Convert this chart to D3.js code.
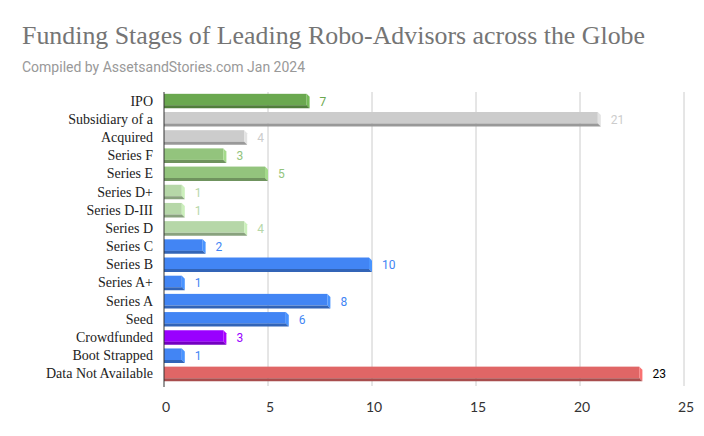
<!DOCTYPE html>
<html><head><meta charset="utf-8">
<script src="https://cdn.jsdelivr.net/npm/d3@7"></script>
<style>body{margin:0;background:#fff}</style>
</head><body>
<svg id="c" width="704" height="436"></svg>
<script>
const categories = ["IPO","Subsidiary of a","Acquired","Series F","Series E","Series D+","Series D-III","Series D","Series C","Series B","Series A+","Series A","Seed","Crowdfunded","Boot Strapped","Data Not Available"];
const values = [7,21,4,3,5,1,1,4,2,10,1,8,6,3,1,23];
const barColors = ["#6aa84f","#cccccc","#cccccc","#93c47d","#93c47d","#b6d7a8","#b6d7a8","#b6d7a8","#4285f4","#4285f4","#4285f4","#4285f4","#4285f4","#9900ff","#4285f4","#e06666"];
const labelColors = ["#6aa84f","#cccccc","#cccccc","#93c47d","#93c47d","#b6d7a8","#b6d7a8","#b6d7a8","#4285f4","#4285f4","#4285f4","#4285f4","#4285f4","#9900ff","#4285f4","#000000"];
const xTicks = [0,5,10,15,20,25];

const svg = d3.select("#c");
svg.append("rect").attr("width",704).attr("height",436).attr("fill","#fff");
svg.append("text").attr("x",22).attr("y",44).attr("font-family","Liberation Serif, serif")
  .attr("font-size",26).attr("fill","#757575").attr("textLength",623).attr("lengthAdjust","spacingAndGlyphs")
  .text("Funding Stages of Leading Robo-Advisors across the Globe");
svg.append("text").attr("x",22).attr("y",72).attr("font-family","Roboto, sans-serif")
  .attr("font-size",14).attr("fill","#999999").text("Compiled by AssetsandStories.com Jan 2024");

const x = d3.scaleLinear().domain([0,25]).range([164,684]);
const y = d3.scaleBand().domain(categories).range([92,383]).paddingInner(0.2).paddingOuter(0.1);

svg.append("g").selectAll("line").data(xTicks.slice(1)).join("line")
  .attr("x1",d=>x(d)).attr("x2",d=>x(d)).attr("y1",92).attr("y2",386)
  .attr("stroke","#cccccc").attr("stroke-width",1);

const shade = (c,k)=> (k>0 ? d3.color(c).brighter(k) : d3.color(c).darker(-k)).formatHex();
const g = svg.append("g");
const dp = 3;
categories.forEach((c,i)=>{
  const x0 = x(0), x1 = x(values[i]);
  const y0 = y(c), y1 = y(c)+y.bandwidth();
  g.append("rect").attr("x",x0).attr("y",y0).attr("width",x1-dp-x0).attr("height",y1-dp-y0).attr("fill",barColors[i]);
  g.append("path").attr("d",`M${x1-dp},${y0}L${x1},${y0+dp}L${x1},${y1}L${x1-dp},${y1-dp}Z`).attr("fill",shade(barColors[i],0.3));
  g.append("path").attr("d",`M${x0},${y1-dp}L${x1-dp},${y1-dp}L${x1},${y1}L${x0},${y1}Z`).attr("fill",shade(barColors[i],-0.8));
  g.append("text").attr("x",x1+10).attr("y",(y0+y1)/2+4.5).attr("font-family","Roboto, sans-serif")
    .attr("font-size",12).attr("fill",labelColors[i]).text(values[i]);
});

svg.append("g").selectAll("text").data(categories).join("text")
  .attr("x",153).attr("y",d=>y(d)+y.bandwidth()/2+4.5).attr("text-anchor","end")
  .attr("font-family","Liberation Serif, serif").attr("font-size",14).attr("fill","#222").text(d=>d);

svg.append("line").attr("x1",164).attr("x2",164).attr("y1",92).attr("y2",387).attr("stroke","#333").attr("stroke-width",1);

svg.append("g").selectAll("text").data(xTicks).join("text")
  .attr("x",d=>x(d)+2).attr("y",412).attr("text-anchor","middle")
  .attr("font-family","Lato, sans-serif").attr("font-size",14).attr("fill","#333").text(d=>d);
</script>
</body></html>
